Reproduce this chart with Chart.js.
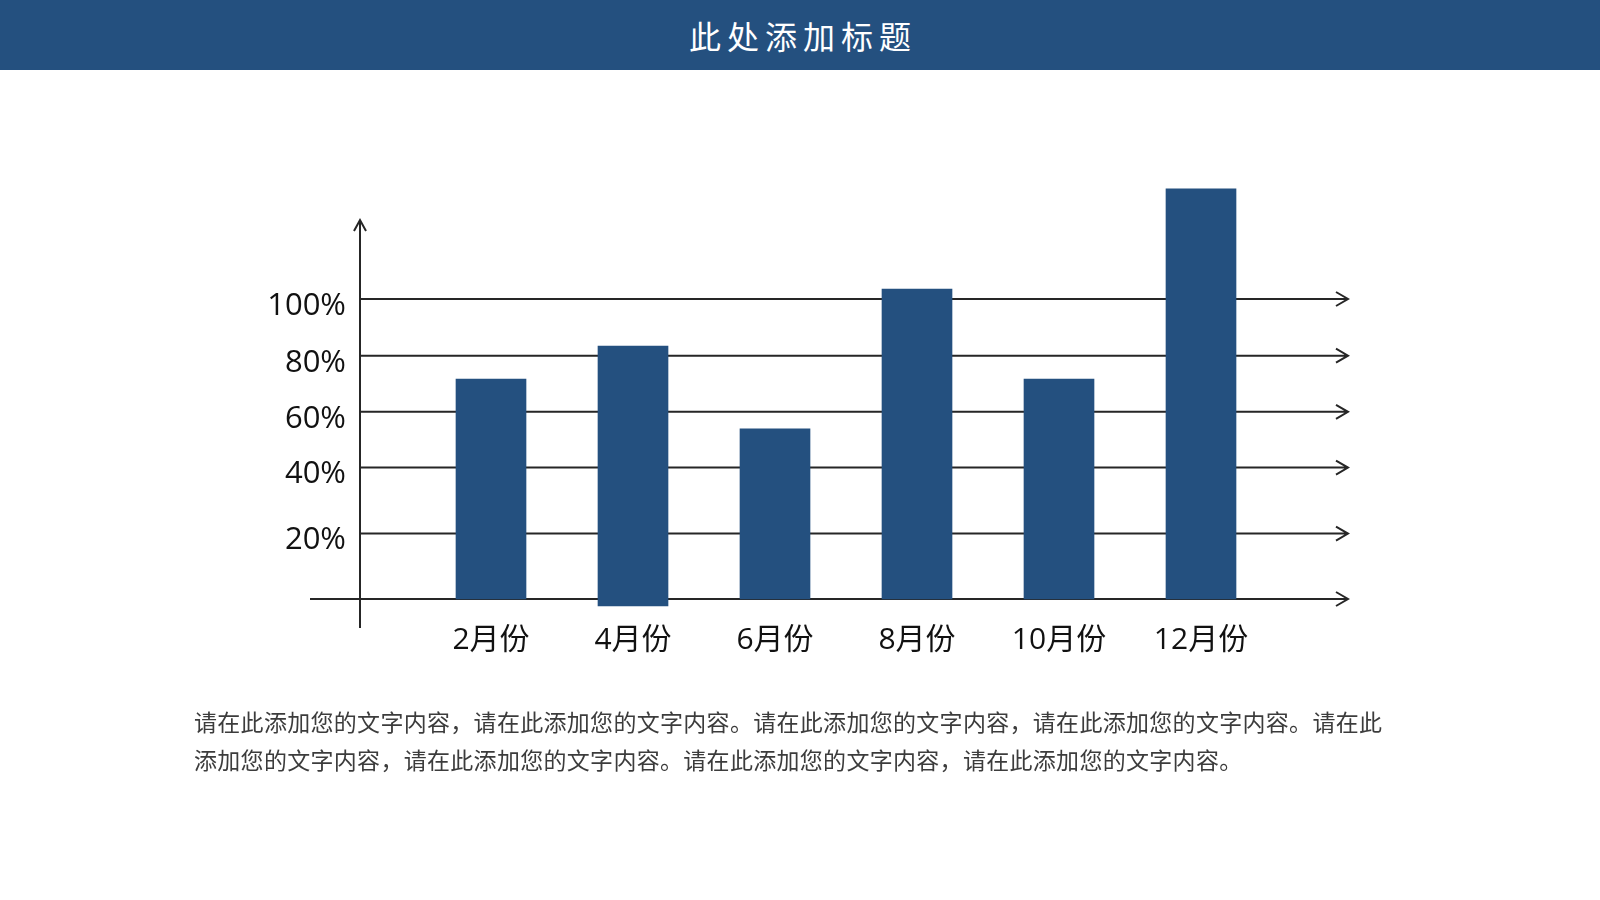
<!DOCTYPE html>
<html>
<head>
<meta charset="utf-8">
<script src="https://cdn.jsdelivr.net/npm/chart.js@4"></script>
<style>
  body { margin: 0; width: 1600px; height: 900px; overflow: hidden; position: relative; background: #fff; }
  #chart { position: absolute; left: 0; top: 0; }
  .header {
    position: absolute; left: 0; top: 0; width: 1600px; height: 70px;
    background: #24507f; color: #fff; text-align: center;
    font: 32px "Noto Sans CJK SC", sans-serif; line-height: 70px;
    letter-spacing: 6px; padding-left: 6px; box-sizing: border-box;
  }
  .desc {
    position: absolute; left: 194px; top: 702px; width: 1250px;
    font: 23px "Noto Sans CJK SC", sans-serif; line-height: 38px;
    color: #3c3c3c; letter-spacing: 0.3px;
  }
</style>
</head>
<body>
<canvas id="chart" width="1600" height="900"></canvas>
<div class="header">此处添加标题</div>
<div class="desc">请在此添加您的文字内容，请在此添加您的文字内容。请在此添加您的文字内容，请在此添加您的文字内容。请在此<br>添加您的文字内容，请在此添加您的文字内容。请在此添加您的文字内容，请在此添加您的文字内容。</div>
<script>
const categories = ["2月份", "4月份", "6月份", "8月份", "10月份", "12月份"];
const barValues = [73.3, 84.3, 56.7, 103.3, 73.3, 136.7];
const barBases = [0, -2.3, 0, 0, 0, 0];
// gridlines in the picture are not evenly spaced
const gridValues = [21.8, 43.8, 62.4, 81.1, 100];
const gridLabels = ["20%", "40%", "60%", "80%", "100%"];

const lineColor = "#262626";
const barColor = "#24507f";
const labelFont = '"Open Sans", "Noto Sans CJK SC", sans-serif';

function arrowRight(ctx, x, y) {
  ctx.moveTo(x - 12, y - 7);
  ctx.lineTo(x, y);
  ctx.lineTo(x - 12, y + 7);
}

// axis lines and gridlines with arrow heads, drawn behind the bars
const arrowAxes = {
  id: "arrowAxes",
  beforeDatasetsDraw(chart) {
    const ctx = chart.ctx;
    const area = chart.chartArea;
    const y = chart.scales.y;
    const axisX = area.left - 60;
    const endX = area.right + 76;
    ctx.save();
    ctx.strokeStyle = lineColor;
    ctx.lineWidth = 2;
    ctx.beginPath();
    y.ticks.forEach((t) => {
      const py = y.getPixelForValue(t.value);
      ctx.moveTo(axisX, py);
      ctx.lineTo(endX, py);
      arrowRight(ctx, endX, py);
    });
    // baseline
    const p0 = y.getPixelForValue(0);
    ctx.moveTo(area.left - 110, p0);
    ctx.lineTo(endX, p0);
    arrowRight(ctx, endX, p0);
    // vertical axis
    const top = y.getPixelForValue(126.3);
    ctx.moveTo(axisX, y.getPixelForValue(-9.7));
    ctx.lineTo(axisX, top);
    ctx.moveTo(axisX - 6, top + 11);
    ctx.lineTo(axisX, top);
    ctx.lineTo(axisX + 6, top + 11);
    ctx.stroke();
    ctx.restore();
  },
};

new Chart(document.getElementById("chart").getContext("2d"), {
  type: "bar",
  data: {
    labels: categories,
    datasets: [
      {
        data: barValues.map((v, i) => [barBases[i], v]),
        backgroundColor: barColor,
        borderWidth: 0,
        barThickness: 70,
      },
    ],
  },
  options: {
    responsive: false,
    animation: false,
    layout: { padding: { left: 220, right: 328, top: 179, bottom: 217 } },
    plugins: { legend: { display: false }, tooltip: { enabled: false } },
    scales: {
      x: {
        type: "category",
        grid: { display: false },
        border: { display: false },
        ticks: { color: "#111", font: { family: labelFont, size: 30 }, padding: -9 },
        afterFit: (scale) => { scale.height = 60; },
      },
      y: {
        min: -8,
        max: 140,
        grid: { display: false },
        border: { display: false },
        ticks: {
          color: "#111",
          font: { family: labelFont, size: 31 },
          padding: 66,
          labelOffset: 7,
          callback: (v, i) => gridLabels[i],
        },
        afterBuildTicks: (scale) => {
          scale.ticks = gridValues.map((v) => ({ value: v }));
        },
        afterFit: (scale) => { scale.width = 200; },
      },
    },
  },
  plugins: [arrowAxes],
});
</script>
</body>
</html>
